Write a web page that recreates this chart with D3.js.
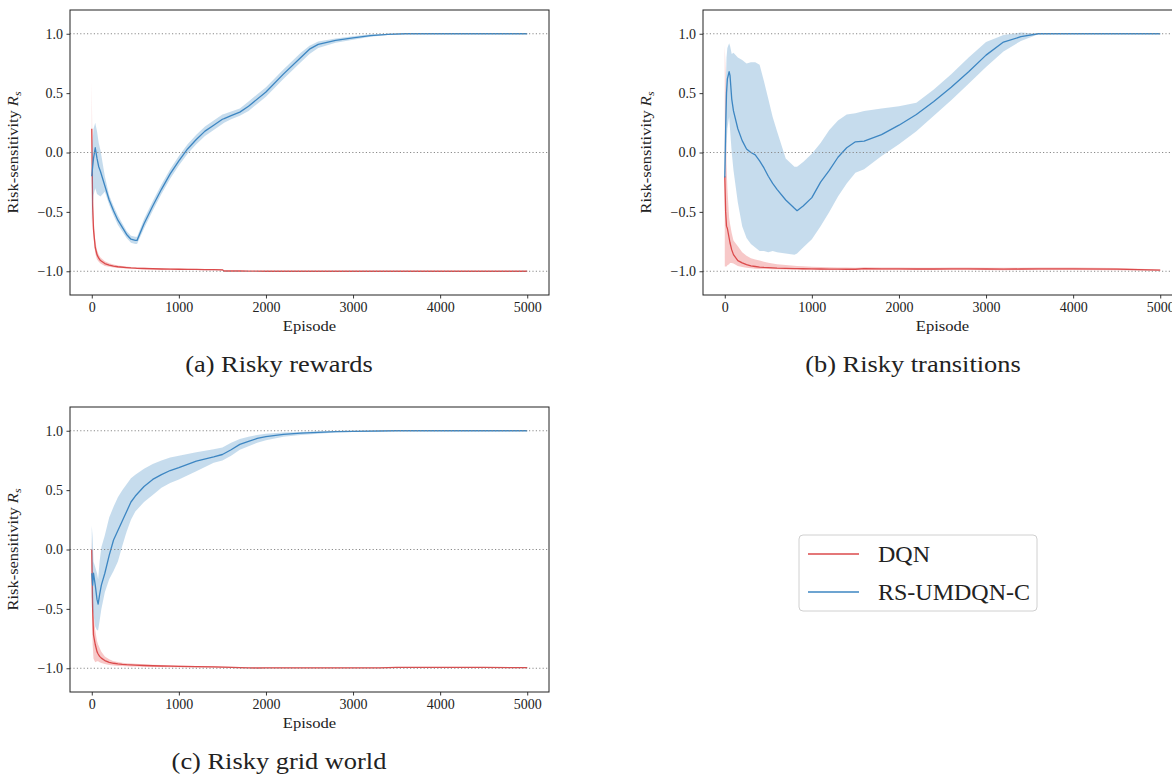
<!DOCTYPE html>
<html>
<head>
<meta charset="utf-8">
<script src="https://cdn.jsdelivr.net/npm/d3@7"></script>
<style>
  html, body { margin: 0; padding: 0; background: #ffffff; }
  svg { display: block; }
  text { font-family: "Liberation Serif", "DejaVu Serif", serif; fill: #222; }
</style>
</head>
<body>
<svg id="fig" width="1172" height="774"></svg>
<script>
// ---------------- data ----------------
const seriesNames = ["DQN", "RS-UMDQN-C"];
const xTicks = [0, 1000, 2000, 3000, 4000, 5000];
const yTicks = [-1.0, -0.5, 0.0, 0.5, 1.0];
const refLines = [-1.0, 0.0, 1.0];
const captions = ["(a) Risky rewards", "(b) Risky transitions", "(c) Risky grid world"];

// (a) Risky rewards
const episodesA = [0, 10, 20, 40, 60, 80, 100, 150, 200, 250, 300, 400, 450, 500, 520, 600, 700, 800, 900, 1000, 1100, 1200, 1300, 1400, 1500, 1520, 1600, 1700, 1800, 2000, 2200, 2400, 2500, 2600, 2800, 3000, 3200, 3400, 3600, 4000, 4500, 5000];
const dqnMeanA = [0.2, -0.45, -0.65, -0.8, -0.86, -0.89, -0.91, -0.935, -0.948, -0.956, -0.962, -0.969, -0.972, -0.974, -0.975, -0.977, -0.979, -0.981, -0.982, -0.983, -0.984, -0.985, -0.986, -0.987, -0.988, -0.998, -0.998, -0.998, -0.999, -1.0, -1.0, -1.0, -1.0, -1.0, -1.0, -1.0, -1.0, -1.0, -1.0, -1.0, -1.0, -1.0];
const dqnLoA = [-0.2, -0.6, -0.72, -0.85, -0.9, -0.92, -0.935, -0.955, -0.963, -0.968, -0.972, -0.977, -0.979, -0.98, -0.981, -0.983, -0.984, -0.986, -0.987, -0.988, -0.989, -0.99, -0.991, -0.992, -0.993, -1.0, -1.0, -1.0, -1.0, -1.0, -1.0, -1.0, -1.0, -1.0, -1.0, -1.0, -1.0, -1.0, -1.0, -1.0, -1.0, -1.0];
const dqnHiA = [0.6, -0.25, -0.55, -0.74, -0.82, -0.86, -0.885, -0.915, -0.933, -0.944, -0.952, -0.961, -0.965, -0.968, -0.969, -0.971, -0.974, -0.976, -0.977, -0.978, -0.979, -0.98, -0.981, -0.982, -0.983, -0.996, -0.996, -0.996, -0.998, -1.0, -1.0, -1.0, -1.0, -1.0, -1.0, -1.0, -1.0, -1.0, -1.0, -1.0, -1.0, -1.0];
const rsMeanA = [-0.2, -0.12, -0.05, 0.04, -0.05, -0.12, -0.16, -0.28, -0.4, -0.49, -0.57, -0.69, -0.73, -0.74, -0.74, -0.6, -0.45, -0.31, -0.18, -0.07, 0.03, 0.11, 0.18, 0.23, 0.28, 0.285, 0.31, 0.34, 0.39, 0.51, 0.66, 0.8, 0.87, 0.91, 0.945, 0.965, 0.985, 0.995, 1.0, 1.0, 1.0, 1.0];
const rsLoA = [-0.6, -0.45, -0.36, -0.3, -0.35, -0.36, -0.37, -0.33, -0.44, -0.53, -0.61, -0.72, -0.76, -0.77, -0.77, -0.64, -0.49, -0.35, -0.22, -0.11, -0.01, 0.07, 0.14, 0.19, 0.24, 0.25, 0.28, 0.31, 0.35, 0.47, 0.62, 0.76, 0.83, 0.88, 0.925, 0.95, 0.975, 0.99, 0.998, 1.0, 1.0, 1.0];
const rsHiA = [-0.1, 0.1, 0.2, 0.25, 0.18, 0.08, 0.02, -0.2, -0.36, -0.45, -0.53, -0.66, -0.7, -0.71, -0.71, -0.56, -0.41, -0.27, -0.14, -0.03, 0.07, 0.15, 0.22, 0.27, 0.32, 0.325, 0.345, 0.37, 0.43, 0.55, 0.7, 0.84, 0.9, 0.935, 0.96, 0.98, 0.995, 1.0, 1.002, 1.0, 1.0, 1.0];

// (b) Risky transitions
const episodesB = [0, 10, 20, 30, 50, 60, 80, 100, 150, 200, 250, 300, 350, 400, 450, 500, 550, 600, 700, 800, 830, 900, 1000, 1100, 1200, 1300, 1400, 1500, 1600, 1800, 2000, 2200, 2400, 2600, 2800, 3000, 3200, 3400, 3600, 4000, 4500, 5000];
const dqnMeanB = [-0.2, -0.5, -0.62, -0.64, -0.72, -0.76, -0.82, -0.86, -0.91, -0.93, -0.945, -0.955, -0.96, -0.965, -0.968, -0.97, -0.972, -0.974, -0.976, -0.978, -0.978, -0.979, -0.98, -0.981, -0.982, -0.982, -0.983, -0.983, -0.978, -0.98, -0.98, -0.981, -0.981, -0.98, -0.98, -0.981, -0.982, -0.981, -0.98, -0.98, -0.982, -0.99];
const dqnLoB = [-0.96, -0.96, -0.96, -0.95, -0.94, -0.93, -0.93, -0.935, -0.955, -0.965, -0.97, -0.975, -0.978, -0.98, -0.981, -0.982, -0.983, -0.984, -0.985, -0.986, -0.986, -0.987, -0.988, -0.989, -0.99, -0.99, -0.99, -0.99, -0.988, -0.99, -0.99, -0.99, -0.99, -0.99, -0.99, -0.99, -0.991, -0.99, -0.99, -0.99, -0.991, -0.996];
const dqnHiB = [0.9, 0.65, -0.1, -0.3, -0.55, -0.6, -0.68, -0.74, -0.79, -0.84, -0.87, -0.89, -0.9, -0.91, -0.92, -0.928, -0.935, -0.94, -0.948, -0.953, -0.955, -0.958, -0.962, -0.965, -0.967, -0.968, -0.969, -0.97, -0.966, -0.968, -0.969, -0.97, -0.97, -0.969, -0.969, -0.97, -0.971, -0.97, -0.969, -0.969, -0.972, -0.985];
const rsMeanB = [-0.21, 0.2, 0.5, 0.62, 0.68, 0.65, 0.45, 0.35, 0.2, 0.1, 0.03, 0.0, -0.02, -0.07, -0.13, -0.2, -0.26, -0.31, -0.4, -0.47, -0.49, -0.45, -0.38, -0.25, -0.15, -0.04, 0.04, 0.09, 0.095, 0.15, 0.23, 0.32, 0.43, 0.55, 0.68, 0.82, 0.93, 0.975, 1.0, 1.0, 1.0, 1.0];
const rsLoB = [-0.22, -0.1, 0.05, 0.2, 0.3, 0.2, 0.0, -0.15, -0.42, -0.62, -0.72, -0.77, -0.8, -0.83, -0.83, -0.84, -0.83, -0.84, -0.85, -0.86, -0.85, -0.8, -0.73, -0.62, -0.5, -0.37, -0.26, -0.17, -0.14, -0.03, 0.07, 0.18, 0.31, 0.44, 0.58, 0.72, 0.85, 0.94, 0.995, 1.0, 1.0, 1.0];
const rsHiB = [-0.2, 0.5, 0.8, 0.88, 0.92, 0.9, 0.83, 0.84, 0.8, 0.78, 0.75, 0.76, 0.76, 0.74, 0.6, 0.45, 0.3, 0.18, -0.05, -0.12, -0.12, -0.08, -0.01, 0.08, 0.19, 0.27, 0.32, 0.33, 0.35, 0.37, 0.39, 0.42, 0.53, 0.66, 0.8, 0.93, 0.99, 1.01, 1.0, 1.0, 1.0, 1.0];

// (c) Risky grid world
const episodesC = [0, 10, 20, 40, 60, 73, 90, 110, 150, 200, 250, 300, 350, 400, 450, 500, 600, 700, 800, 900, 1000, 1200, 1400, 1500, 1600, 1700, 1800, 1900, 2000, 2200, 2400, 2600, 2800, 3000, 3300, 3500, 4000, 4500, 5000];
const dqnMeanC = [0.0, -0.5, -0.72, -0.8, -0.86, -0.88, -0.9, -0.915, -0.935, -0.95, -0.958, -0.963, -0.967, -0.97, -0.972, -0.974, -0.977, -0.979, -0.981, -0.982, -0.984, -0.986, -0.988, -0.99, -0.992, -0.995, -0.997, -0.998, -0.996, -0.996, -0.997, -0.997, -0.997, -0.997, -0.997, -0.993, -0.993, -0.993, -0.995];
const dqnLoC = [-0.4, -0.8, -0.92, -0.95, -0.94, -0.94, -0.95, -0.955, -0.965, -0.972, -0.977, -0.98, -0.982, -0.984, -0.985, -0.986, -0.988, -0.989, -0.99, -0.991, -0.992, -0.994, -0.996, -0.997, -0.998, -1.0, -1.0, -1.0, -1.0, -1.0, -1.0, -1.0, -1.0, -1.0, -1.0, -0.997, -0.997, -0.997, -0.999];
const dqnHiC = [0.1, -0.2, -0.55, -0.68, -0.77, -0.8, -0.83, -0.86, -0.9, -0.925, -0.94, -0.948, -0.953, -0.957, -0.96, -0.963, -0.967, -0.97, -0.973, -0.975, -0.977, -0.98, -0.983, -0.985, -0.987, -0.99, -0.993, -0.995, -0.992, -0.992, -0.993, -0.993, -0.993, -0.993, -0.993, -0.989, -0.989, -0.989, -0.991];
const rsMeanC = [-0.2, -0.3, -0.2, -0.3, -0.42, -0.46, -0.38, -0.3, -0.2, -0.05, 0.08, 0.16, 0.24, 0.32, 0.4, 0.45, 0.53, 0.59, 0.63, 0.665, 0.69, 0.745, 0.78, 0.8, 0.84, 0.885, 0.91, 0.935, 0.95, 0.97, 0.98, 0.987, 0.992, 0.995, 0.998, 1.0, 1.0, 1.0, 1.0];
const rsLoC = [-0.4, -0.5, -0.55, -0.65, -0.68, -0.68, -0.6, -0.5, -0.36, -0.25, -0.18, -0.1, 0.03, 0.15, 0.25, 0.32, 0.4, 0.46, 0.52, 0.56, 0.59, 0.66, 0.73, 0.75, 0.79, 0.84, 0.87, 0.9, 0.92, 0.95, 0.965, 0.975, 0.985, 0.99, 0.996, 1.0, 1.0, 1.0, 1.0];
const rsHiC = [0.2, 0.1, -0.1, -0.15, -0.2, -0.25, -0.1, 0.02, 0.12, 0.27, 0.36, 0.44, 0.5, 0.55, 0.6, 0.63, 0.68, 0.72, 0.75, 0.775, 0.79, 0.82, 0.845, 0.86, 0.9, 0.93, 0.95, 0.965, 0.975, 0.985, 0.99, 0.995, 0.998, 1.0, 1.0, 1.0, 1.0, 1.0, 1.0];

// ---------------- styling & layout ----------------
const colors = {
  dqnLine: "#db4a4b", dqnFill: "rgba(230, 85, 85, 0.32)",
  rsLine: "#3d86c2",  rsFill: "rgba(66, 139, 196, 0.30)"
};

const panels = [
  { caption: captions[0], frame: { left: 70, right: 549, top: 10, bottom: 295 }, capX: 279, capY: 372,
    ep: episodesA, dqn: [dqnMeanA, dqnLoA, dqnHiA], rs: [rsMeanA, rsLoA, rsHiA] },
  { caption: captions[1], frame: { left: 703, right: 1182, top: 10, bottom: 295 }, capX: 913, capY: 372,
    ep: episodesB, dqn: [dqnMeanB, dqnLoB, dqnHiB], rs: [rsMeanB, rsLoB, rsHiB] },
  { caption: captions[2], frame: { left: 70, right: 549, top: 407, bottom: 692 }, capX: 279, capY: 769,
    ep: episodesC, dqn: [dqnMeanC, dqnLoC, dqnHiC], rs: [rsMeanC, rsLoC, rsHiC] }
];

const svg = d3.select("#fig");
const fmt = d3.format(".1f");

// widen a text's glyphs slightly so the serif face sets as wide as a TeX face
function widen(sel, k) {
  sel.each(function () {
    const w = this.getComputedTextLength();
    d3.select(this).attr("textLength", (w * k).toFixed(1)).attr("lengthAdjust", "spacingAndGlyphs");
  });
}

panels.forEach((p, i) => {
  const f = p.frame;
  const x = d3.scaleLinear().domain([-250, 5250]).range([f.left, f.right]);
  const y = d3.scaleLinear().domain([-1.2, 1.2]).range([f.bottom, f.top]);

  const g = svg.append("g");
  const clipId = "clip" + i;
  g.append("clipPath").attr("id", clipId)
    .append("rect").attr("x", f.left).attr("y", f.top)
    .attr("width", f.right - f.left).attr("height", f.bottom - f.top);

  const plot = g.append("g").attr("clip-path", `url(#${clipId})`);

  const rows = (arrs) => p.ep.map((e, k) => ({ e, m: arrs[0][k], lo: arrs[1][k], hi: arrs[2][k] }));
  const area = d3.area().x(d => x(d.e)).y0(d => y(d.lo)).y1(d => y(d.hi));
  const line = d3.line().x(d => x(d.e)).y(d => y(d.m));

  [[p.dqn, colors.dqnFill, colors.dqnLine], [p.rs, colors.rsFill, colors.rsLine]].forEach(([arrs, fill, stroke]) => {
    const data = rows(arrs);
    plot.append("path").datum(data).attr("d", area).attr("fill", fill).attr("stroke", "none");
    plot.append("path").datum(data).attr("d", line).attr("fill", "none")
      .attr("stroke", stroke).attr("stroke-width", 1.3).attr("stroke-linejoin", "round");
  });

  // dotted reference levels
  plot.selectAll("line.ref").data(refLines).enter().append("line")
    .attr("x1", f.left).attr("x2", f.right)
    .attr("y1", d => y(d)).attr("y2", d => y(d))
    .attr("stroke", "#8a8a8a").attr("stroke-width", 1.1).attr("stroke-dasharray", "1.2,2.2");

  // axes
  const xAxis = d3.axisBottom(x).tickValues(xTicks).tickFormat(d3.format("d"))
    .tickSizeInner(3.5).tickSizeOuter(0).tickPadding(3.5);
  const yAxis = d3.axisLeft(y).tickValues(yTicks).tickFormat(fmt)
    .tickSizeInner(3.5).tickSizeOuter(0).tickPadding(3.5);

  const gx = g.append("g").attr("transform", `translate(0,${f.bottom})`).call(xAxis);
  const gy = g.append("g").attr("transform", `translate(${f.left},0)`).call(yAxis);
  [gx, gy].forEach(a => {
    a.select(".domain").remove();
    a.selectAll(".tick line").attr("stroke", "#222").attr("stroke-width", 0.9);
    a.selectAll(".tick text").attr("font-family", "Liberation Serif, serif").attr("font-size", 14).attr("fill", "#222");
  });

  // frame
  g.append("rect").attr("x", f.left).attr("y", f.top)
    .attr("width", f.right - f.left).attr("height", f.bottom - f.top)
    .attr("fill", "none").attr("stroke", "#222").attr("stroke-width", 1);

  // axis titles
  const xl = g.append("text").attr("x", (f.left + f.right) / 2).attr("y", f.bottom + 36)
    .attr("text-anchor", "middle").attr("font-size", 15.5).text("Episode");
  widen(xl, 1.07);

  const yl = g.append("text")
    .attr("transform", `translate(${f.left - 52},${(f.top + f.bottom) / 2}) rotate(-90)`)
    .attr("text-anchor", "middle").attr("font-size", 15.5);
  yl.append("tspan").text("Risk-sensitivity ");
  yl.append("tspan").attr("font-style", "italic").text("R");
  yl.append("tspan").attr("font-style", "italic").attr("font-size", 11).attr("dy", 3).text("s");
  widen(yl, 1.06);

  // caption
  const cap = g.append("text").attr("x", p.capX).attr("y", p.capY)
    .attr("text-anchor", "middle").attr("font-size", 24).text(p.caption);
  widen(cap, 1.1);
});

// legend
const lg = svg.append("g");
lg.append("rect").attr("x", 799).attr("y", 535).attr("width", 238).attr("height", 76)
  .attr("rx", 4).attr("fill", "#fff").attr("stroke", "#d0d0d0").attr("stroke-width", 1);
[[seriesNames[0], colors.dqnLine, 554], [seriesNames[1], colors.rsLine, 592]].forEach(([name, col, yy]) => {
  lg.append("line").attr("x1", 808).attr("x2", 859).attr("y1", yy).attr("y2", yy)
    .attr("stroke", col).attr("stroke-width", 1.6);
  lg.append("text").attr("x", 878).attr("y", yy + 8).attr("font-size", 24).text(name);
});
</script>
</body>
</html>
